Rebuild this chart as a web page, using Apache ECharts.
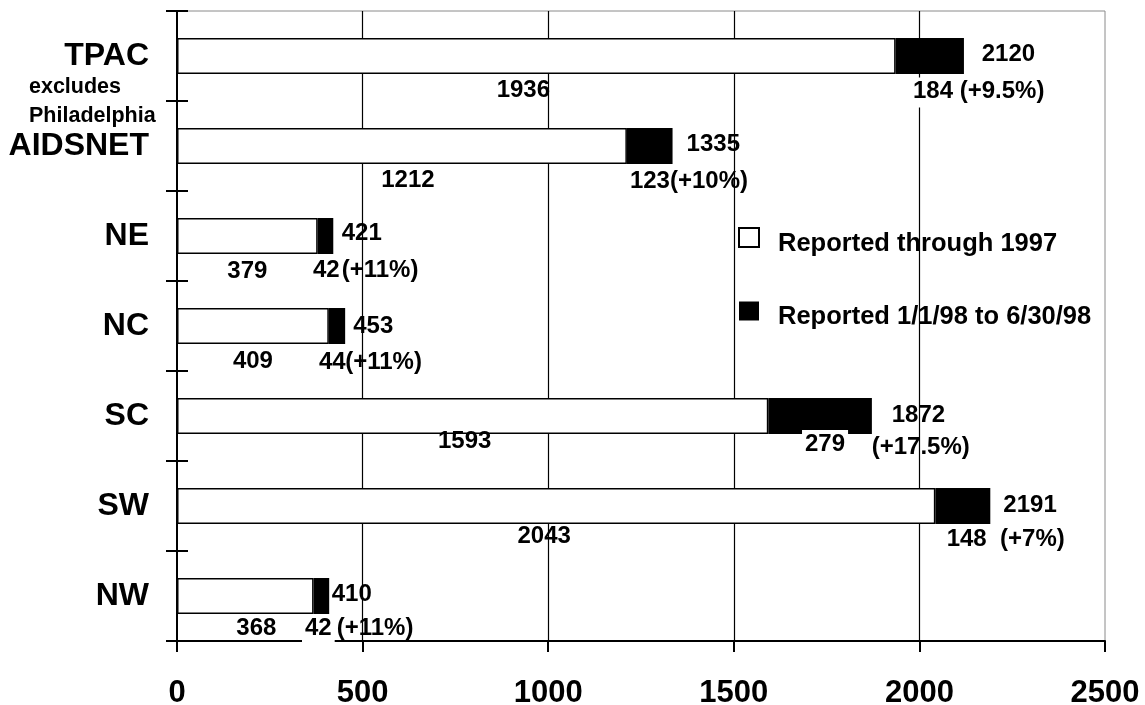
<!DOCTYPE html>
<html>
<head>
<meta charset="utf-8">
<script src="https://cdn.jsdelivr.net/npm/echarts@6/dist/echarts.min.js"></script>
<style>
  html, body { margin: 0; padding: 0; background: #fff; }
  #chart { width: 1145px; height: 705px; }
</style>
</head>
<body>
<div id="chart"></div>
<script>
// Regions and AIDS case counts
const regions = ['TPAC', 'AIDSNET', 'NE', 'NC', 'SC', 'SW', 'NW'];
const through1997 = [1936, 1212, 379, 409, 1593, 2043, 368];
const firstHalf1998 = [184, 123, 42, 44, 279, 148, 42];
const increasePct = ['(+9.5%)', '(+10%)', '(+11%)', '(+11%)', '(+17.5%)', '(+7%)', '(+11%)'];
const xTicks = [0, 500, 1000, 1500, 2000, 2500];
const seriesNames = ['Reported through 1997', 'Reported 1/1/98 to 6/30/98'];

const totals = through1997.map((v, i) => v + firstHalf1998[i]);

// Per-region label nudges [dx, dy] in px
const baseLabelShift = [[-13, 4.5], [6, 4.5], [0, 5], [0, 5], [-8, -4.5], [-12, 0.5], [11, 2]];
const incLabelShift = [[14.3, 3.5], [0, 3], [-7.7, 2], [-12.8, 4.5], [33.7, -4], [8.3, 1], [-11.6, 0]];
const totalLabelShift = [[17.7, -2], [14, -2], [8.4, -2.8], [8, 0.2], [19.8, -0.5], [13, -0.5], [2.5, -1.5]];
const pctLabelShift = [[-4.3, 35.5], [-2.6, 35.5], [8.4, 34.5], [0, 36.5], [-0.2, 31.5], [9.7, 33.5], [7.5, 32.5]];

const FONT = "'Liberation Sans', Arial, Helvetica, sans-serif";
const labelFont = { fontFamily: FONT, fontWeight: 'bold', fontSize: 24, color: '#000' };

const baseData = through1997.map((v, i) => ({
  value: v,
  label: { offset: baseLabelShift[i] }
}));
const incData = firstHalf1998.map((v, i) => ({
  value: v,
  label: { offset: incLabelShift[i] }
}));
const totalData = totals.map((v, i) => ({
  value: [v, i],
  label: { offset: totalLabelShift[i] }
}));
const pctData = totals.map((v, i) => ({
  value: [v, i],
  label: { offset: pctLabelShift[i] }
}));

const chart = echarts.init(document.getElementById('chart'), null, { renderer: 'canvas' });

// invisible anchor points carrying the text beside each bar end
const anchorSeries = (name, data, formatter) => ({
  name: name,
  type: 'scatter',
  yAxisIndex: 0,
  symbolSize: 0.1,
  itemStyle: { color: 'rgba(0,0,0,0)', opacity: 1 },
  label: Object.assign({ show: true, position: 'right', distance: 0, formatter: formatter }, labelFont),
  emphasis: { disabled: true },
  silent: true,
  z: 5,
  data: data
});

chart.setOption({
  animation: false,
  backgroundColor: '#fff',
  grid: {
    left: 177, right: 40, top: 11, bottom: 64,
    containLabel: false,
    outerBoundsMode: 'none',
    show: true, borderColor: '#8a8a8a', borderWidth: 1, backgroundColor: 'transparent'
  },
  xAxis: {
    type: 'value',
    min: xTicks[0],
    max: xTicks[xTicks.length - 1],
    interval: xTicks[1] - xTicks[0],
    axisLine: { show: true, lineStyle: { color: '#000', width: 2 } },
    axisTick: { show: true, length: 11, lineStyle: { color: '#000', width: 2 } },
    axisLabel: {
      margin: 37, fontFamily: FONT, fontWeight: 'bold', fontSize: 31, color: '#000',
      formatter: v => String(v)
    },
    splitLine: { show: true, showMinLine: false, showMaxLine: false, lineStyle: { color: '#000', width: 1.2 } }
  },
  yAxis: [
    {
      type: 'category',
      data: regions,
      inverse: true,
      axisLine: { show: true, lineStyle: { color: '#000', width: 2 } },
      axisTick: { show: true, length: 11, lineStyle: { color: '#000', width: 2 } },
      axisLabel: { margin: 28, fontFamily: FONT, fontWeight: 'bold', fontSize: 32, color: '#000' },
      splitLine: { show: false }
    },
    {
      // inner half of the crossing category ticks
      type: 'category',
      data: regions,
      inverse: true,
      position: 'left',
      axisLine: { show: false },
      axisTick: { show: true, inside: true, length: 11, lineStyle: { color: '#000', width: 2 } },
      axisLabel: { show: false },
      splitLine: { show: false }
    }
  ],
  legend: {
    orient: 'vertical',
    left: 733,
    top: 222,
    padding: 5,
    itemWidth: 20,
    itemHeight: 19,
    itemGap: 45,
    icon: 'rect',
    selectedMode: false,
    data: seriesNames,
    formatter: name => '{t|' + name + '}',
    textStyle: {
      fontFamily: FONT, fontWeight: 'bold', fontSize: 25.5, color: '#000',
      rich: { t: { fontFamily: FONT, fontWeight: 'bold', fontSize: 25.5, color: '#000', padding: [12, 0, 0, 14] } }
    }
  },
  graphic: [{
    type: 'text',
    left: 29,
    top: 73,
    style: {
      text: 'excludes\nPhiladelphia',
      font: "bold 21.5px 'Liberation Sans', Arial, sans-serif",
      lineHeight: 29,
      fill: '#000'
    }
  }],
  series: [
    {
      name: seriesNames[0],
      type: 'bar',
      stack: 'cases',
      barWidth: 36,
      yAxisIndex: 0,
      itemStyle: { color: '#fff', borderColor: '#000', borderWidth: 1.5 },
      label: Object.assign({ show: true, position: 'bottom', distance: 0, formatter: '{c}' }, labelFont),
      emphasis: { disabled: true },
      data: baseData
    },
    {
      name: seriesNames[1],
      type: 'bar',
      stack: 'cases',
      barWidth: 36,
      yAxisIndex: 0,
      itemStyle: { color: '#000', borderColor: '#000', borderWidth: 0 },
      label: Object.assign({
        show: true, position: ['0%', '100%'], formatter: '{c}',
        backgroundColor: '#fff', padding: [2, 3, 4, 3]
      }, labelFont),
      emphasis: { disabled: true },
      data: incData
    },
    anchorSeries('total', totalData, p => String(p.value[0])),
    anchorSeries('increase', pctData, p => increasePct[p.dataIndex])
  ]
});
</script>
</body>
</html>
